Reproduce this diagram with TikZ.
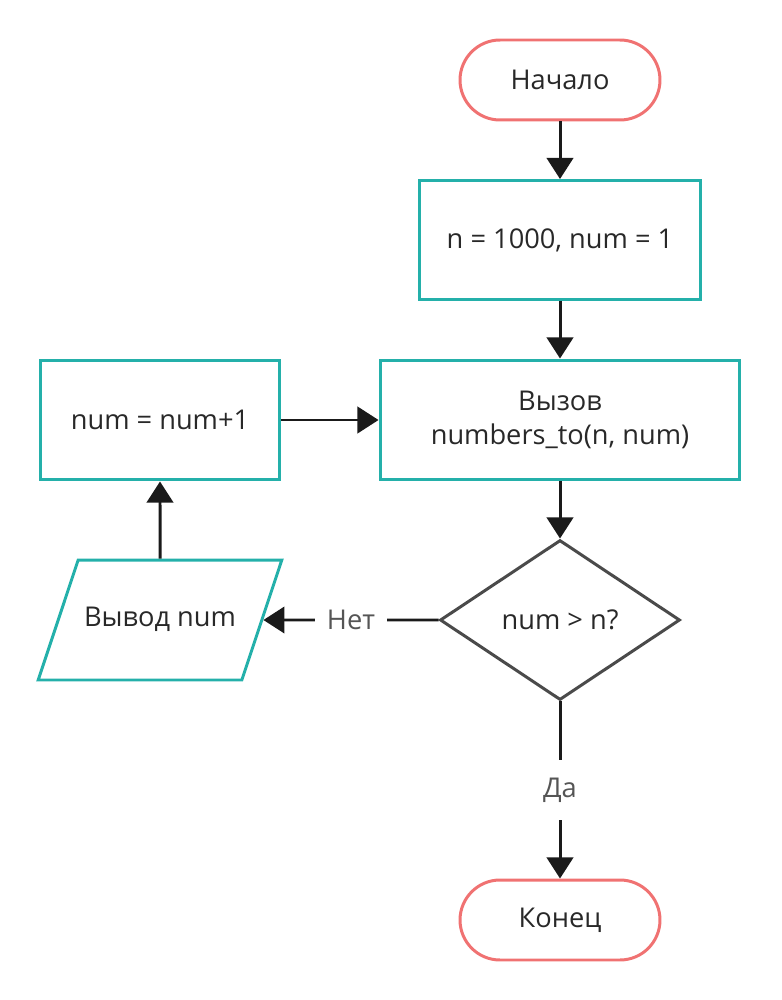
\documentclass[tikz,border=0pt]{standalone}
\usepackage{fontspec}
\setmainfont{Open Sans}
\usetikzlibrary{shapes.geometric, arrows.meta, positioning}

\definecolor{boxteal}{RGB}{36,176,170}
\definecolor{termred}{RGB}{240,114,114}
\definecolor{condgrey}{RGB}{74,74,74}
\definecolor{arrowblack}{RGB}{26,26,26}
\definecolor{nodetext}{RGB}{40,40,40}
\definecolor{labeltext}{RGB}{85,85,85}

\begin{document}
\begin{tikzpicture}[x=0.02cm, y=-0.02cm, font=\fontsize{15.5}{19}\selectfont,
    >={Triangle[length=12pt, width=15pt]},
    terminal/.style={draw=termred, line width=1.7pt, rounded corners=0.8cm, minimum width=4cm, minimum height=1.6cm, text=nodetext},
    process/.style={draw=boxteal, line width=1.7pt, minimum height=2.4cm, align=center, text=nodetext},
    io/.style={draw=boxteal, line width=1.7pt, trapezium, trapezium left angle=71.57, trapezium right angle=108.43, trapezium stretches body=true, text height=0.35cm, text depth=0.1cm, inner ysep=0.975cm, minimum width=4.8cm, text=nodetext},
    decision/.style={draw=condgrey, line width=1.7pt, diamond, minimum width=4.8cm, minimum height=3.2cm, inner sep=0pt, text=nodetext},
    flow/.style={->, draw=arrowblack, line width=1.7pt},
    answer/.style={fill=white, text=labeltext, inner sep=7pt}]

\useasboundingbox (0,0) rectangle (781,1000);

\node[terminal] (start) at (560,80) {Начало};
\node[process, minimum width=5.62cm, minimum height=2.38cm] (init) at (560,240) {n = 1000, num = 1};
\node[process, minimum width=7.2cm] (call) at (560,420) {Вызов\\numbers\_to(n, num)};
\node[process, minimum width=4.8cm] (inc) at (160,420) {num = num+1};
\node[decision] (check) at (560,620) {num > n?};
\node[io] (out) at (160,620) {Вывод num};
\node[terminal] (stop) at (560,920) {Конец};

\draw[flow] (start) -- (init);
\draw[flow] (init) -- (call);
\draw[flow] (call) -- (check);
\draw[flow] (check) -- node[answer] (no) {Нет} (out);
\draw[flow] (check) -- node[answer, inner sep=10pt] (yes) {Да} (stop);
\draw[flow] (out) -- (inc);
\draw[flow] (inc) -- (call);

\end{tikzpicture}
\end{document}
